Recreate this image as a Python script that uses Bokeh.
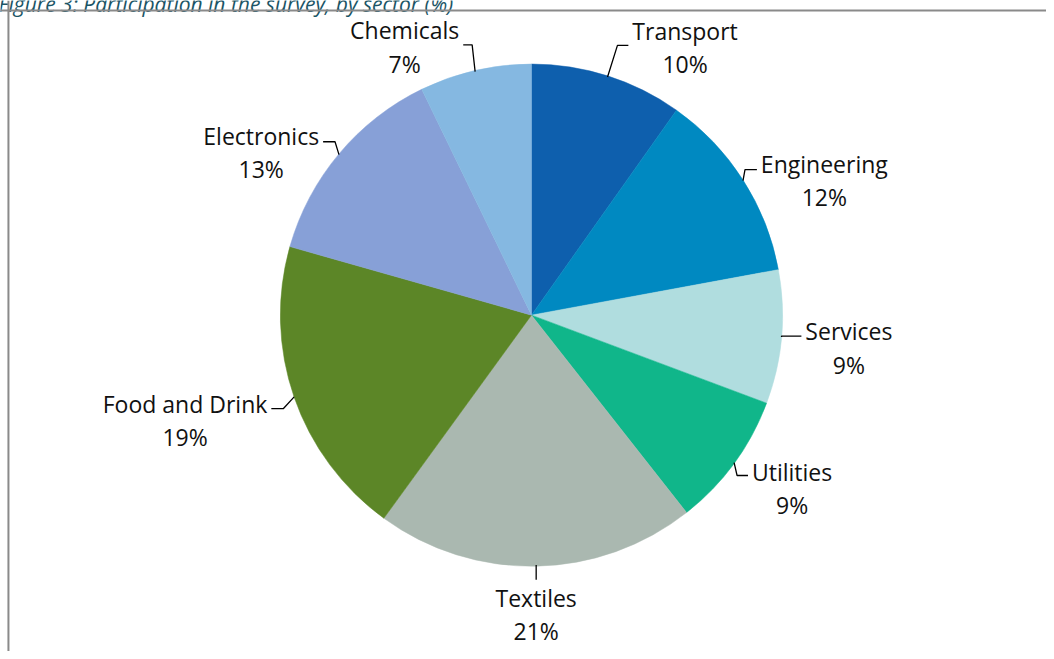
import math
from bokeh.plotting import figure
from bokeh.models import Range1d, Span, ColumnDataSource
from bokeh.core.properties import value
from bokeh.embed import file_html
from bokeh.resources import INLINE

# ---- data ----
title = "Figure 3: Participation in the survey, by sector (%)"
sectors = ["Transport", "Engineering", "Services", "Utilities",
           "Textiles", "Food and Drink", "Electronics", "Chemicals"]
shares = [9.8, 12.3, 8.6, 8.7, 20.6, 19.4, 13.4, 7.2]
colors = ["#0E5FAD", "#0089C1", "#B0DDDF", "#10B68A",
          "#AAB8B0", "#5C8627", "#87A0D7", "#85B8E1"]

# ---- layout (reference pixel units, y measured downward) ----
W, H = 1046, 651
RW, RH = 1054, 659
CX, CY, R = 535.0, 318.5, 253.0
# elbow offset from pie edge (dx, dy), horizontal leg (signed), label side, label dy
leader = {
    "Transport":      (10, -32, 11, "R", 2),
    "Engineering":    (2, -11, 12, "R", 11),
    "Services":       (0, -1, 20, "R", 12),
    "Utilities":      (3, 13, 11, "R", 13),
    "Textiles":       (0, 15, 0, "B", 35),
    "Food and Drink": (-11, 12, -12, "L", 12),
    "Electronics":    (-4, -13, -12, "L", 11),
    "Chemicals":      (-3, -27, -9, "L", 2),
}
GAP = 4

p = figure(width=W, height=H, output_backend="svg", toolbar_location=None,
           x_range=Range1d(0, RW), y_range=Range1d(-RH, 0),
           min_border=0, outline_line_color=None)
p.axis.visible = False
p.grid.visible = False
p.background_fill_color = "white"
p.border_fill_color = "white"

total = sum(shares)
starts, ends, mids = [], [], []
c = 0.0
for v in shares:
    a0 = c / total
    c += v
    a1 = c / total
    starts.append(math.pi / 2 - 2 * math.pi * a0)
    ends.append(math.pi / 2 - 2 * math.pi * a1)
    mids.append(2 * math.pi * (a0 + a1) / 2)  # clockwise from top

src = ColumnDataSource(dict(start=starts, end=ends, color=colors, name=sectors))
p.wedge(x=CX, y=-CY, radius=R, start_angle="start", end_angle="end",
        direction="clock", fill_color="color", line_color="color",
        line_width=0.5, source=src)

xs, ys = [], []
groups = {"R": ([], [], []), "L": ([], [], []), "B": ([], [], [])}
for name, v, th in zip(sectors, shares, mids):
    ex, ey = CX + R * math.sin(th), CY - R * math.cos(th)
    dx, dy, h, side, ldy = leader[name]
    kx, ky = ex + dx, ey + dy
    fx, fy = kx + h, ky
    xs.append([ex, kx, fx])
    ys.append([-ey, -ky, -fy])
    lab = f"{name}\n{round(v)}%"
    gx, gy, gt = groups[side]
    if side == "R":
        gx.append(fx + GAP); gy.append(-(fy + ldy))
    elif side == "L":
        gx.append(fx - GAP); gy.append(-(fy + ldy))
    else:
        gx.append(fx); gy.append(-(fy + ldy))
    gt.append(lab)

p.multi_line(xs, ys, line_color="black", line_width=1.3)

anchors = {"R": "center_left", "L": "center_right", "B": "center"}
for side, (gx, gy, gt) in groups.items():
    if not gx:
        continue
    p.text(x=gx, y=gy, text=gt, anchor=anchors[side], text_align="center",
           text_baseline="middle", text_font=value("Open Sans"),
           text_font_size="23px", text_line_height=1.04, text_color="#111111")

# document caption, mostly cut off at the top edge
p.text(x=[-2], y=[-4], text=[title], text_align="left", text_baseline="alphabetic",
       text_font=value("Open Sans"), text_font_style="italic",
       text_font_size="21px", text_color="#1B5566")

# frame lines of the figure box
p.add_layout(Span(location=8, dimension="height", line_color="#8a8a8a", line_width=2))
p.add_layout(Span(location=-10, dimension="width", line_color="#8a8a8a", line_width=2))

open("out.html", "w").write(file_html(p, INLINE))
